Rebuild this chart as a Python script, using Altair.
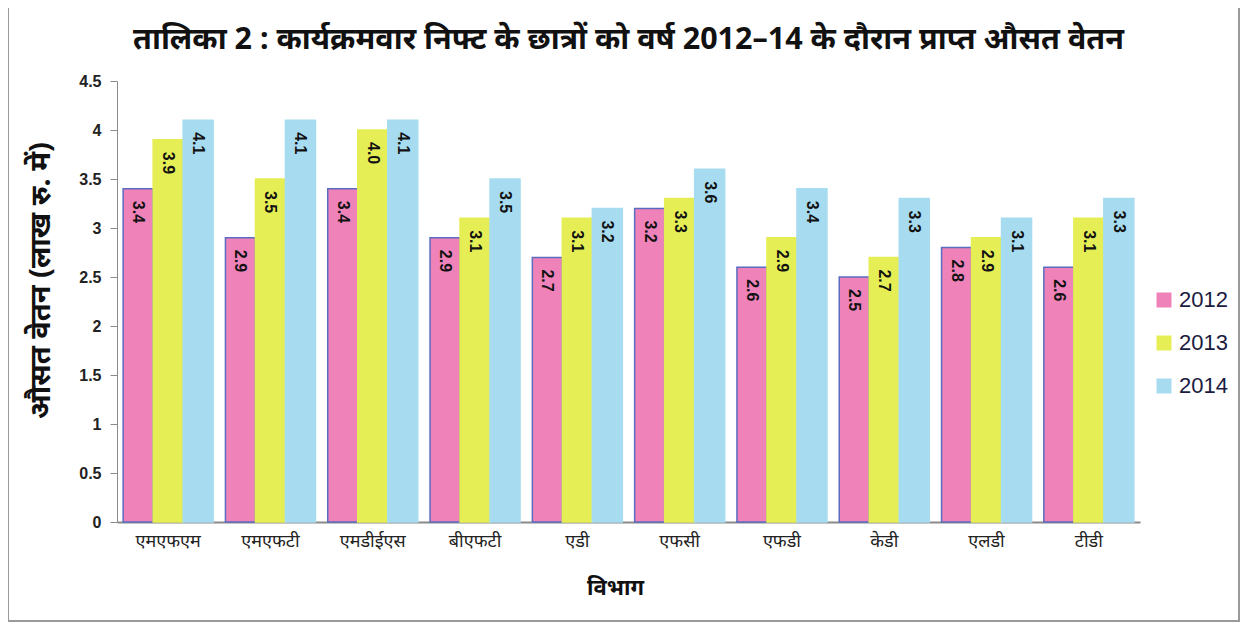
import altair as alt
import pandas as pd

categories = ["एमएफएम", "एमएफटी", "एमडीईएस", "बीएफटी", "एडी", "एफसी", "एफडी", "केडी", "एलडी", "टीडी"]
years = ["2012", "2013", "2014"]
v2012 = [3.4, 2.9, 3.4, 2.9, 2.7, 3.2, 2.6, 2.5, 2.8, 2.6]
v2013 = [3.9, 3.5, 4.0, 3.1, 3.1, 3.3, 2.9, 2.7, 2.9, 3.1]
v2014 = [4.1, 4.1, 4.1, 3.5, 3.2, 3.6, 3.4, 3.3, 3.1, 3.3]
y_ticks = [0, 0.5, 1, 1.5, 2, 2.5, 3, 3.5, 4, 4.5]
colors = ["#EF83B9", "#E6EE55", "#A7DCF0"]

rows = []
for i, c in enumerate(categories):
    for y, vals in zip(years, [v2012, v2013, v2014]):
        rows.append({"cat": c, "year": y, "val": vals[i]})
df = pd.DataFrame(rows)

FONT = "Noto Sans"

x_enc = alt.X("cat:N", sort=categories,
              scale=alt.Scale(paddingInner=0.12, paddingOuter=0.06),
              axis=alt.Axis(title="विभाग", labelAngle=0, ticks=False, labelPadding=10,
                            labelFontSize=18, labelColor="#222", labelFont=FONT,
                            domainColor="#8a8a8a", domainWidth=2,
                            titleFont=FONT, titleFontSize=22, titleFontWeight="bold",
                            titleColor="#111", titleX=498, titleY=65,
                            titleBaseline="middle", titleAlign="center"))
y_enc = alt.Y("val:Q", scale=alt.Scale(domain=[0, 4.5], nice=False),
              axis=alt.Axis(title="औसत वेतन (लाख रु. में)", values=y_ticks, format="~g",
                            grid=False, tickSize=7, tickColor="#8a8a8a", domainColor="#8a8a8a",
                            labelFont="Liberation Sans", labelFontSize=16, labelFontWeight="bold",
                            labelColor="#222", labelPadding=9,
                            titleFont=FONT, titleFontSize=29, titleFontWeight="bold",
                            titleColor="#111", titleX=-77, titleY=199,
                            titleAlign="center", titleBaseline="middle"))
xoff = alt.XOffset("year:N", sort=years, scale=alt.Scale(paddingInner=0, paddingOuter=0))

bars = alt.Chart(df).mark_bar(strokeWidth=1.5).encode(
    x=x_enc, y=y_enc, xOffset=xoff,
    color=alt.Color("year:N", sort=years, scale=alt.Scale(domain=years, range=colors),
                    legend=alt.Legend(title=None, orient="none", legendX=1036, legendY=208,
                                      symbolType="square", symbolSize=225, symbolStrokeWidth=0,
                                      labelFont="Liberation Sans", labelFontSize=22,
                                      labelColor="#1b1b40", rowPadding=21, labelOffset=4)),
    stroke=alt.Stroke("year:N", sort=years,
                      scale=alt.Scale(domain=years, range=["#5a6cc0", "#E6EE55", "#A7DCF0"]),
                      legend=None),
)

labels = alt.Chart(df).mark_text(angle=90, align="left", baseline="middle", dx=12,
                                 font="Liberation Sans", fontSize=16, fontWeight="bold",
                                 color="#111").encode(
    x=alt.X("cat:N", sort=categories), y="val:Q", xOffset=xoff,
    text=alt.Text("val:Q", format=".1f"),
)

frame = alt.Chart(pd.DataFrame({"a": [0]})).mark_rect(fill=None, stroke="#9a9a9a", strokeWidth=2).encode(
    x=alt.value(-109), x2=alt.value(1122), y=alt.value(-90), y2=alt.value(540)
)

chart = alt.layer(frame, bars, labels).properties(
    width=1023, height=441,
    padding={"left": 109, "top": 73, "right": 100, "bottom": 101},
    autosize=alt.AutoSizeParams(type="none"),
    title=alt.TitleParams("तालिका 2 : कार्यक्रमवार निफ्ट के छात्रों को वर्ष 2012–14 के दौरान प्राप्त औसत वेतन",
                          font=FONT, fontSize=30.5, fontWeight="bold", color="#111",
                          anchor="middle", offset=24, dy=89),
).configure_view(stroke=None)

chart.save("out.html", embed_options={"renderer": "svg", "actions": False})
